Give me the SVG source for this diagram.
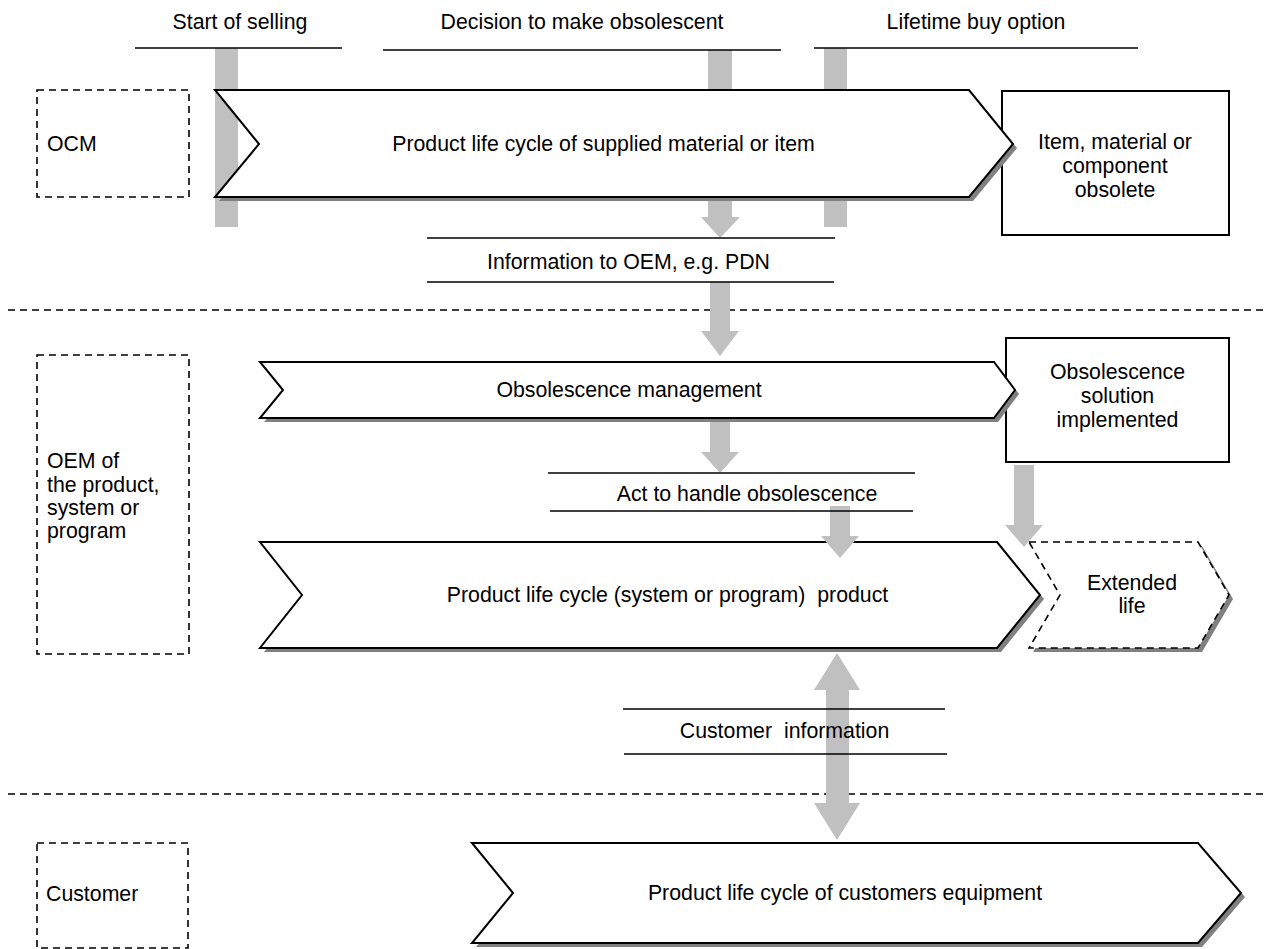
<svg xmlns="http://www.w3.org/2000/svg" xmlns:xlink="http://www.w3.org/1999/xlink" width="1265" height="949" viewBox="0 0 1265 949">
  <style>
    text { font-family: "Liberation Sans", Arial, sans-serif; font-size: 21.3px; fill: #000; white-space: pre; }
    .mid { text-anchor: middle; }
    .chev { fill: #fff; stroke: #000; stroke-width: 2; stroke-linejoin: miter; }
    .chev-dash { fill: #fff; stroke: #000; stroke-width: 1.6; stroke-dasharray: 7 5; }
    .shadow { fill: #808080; stroke: none; }
    .box { fill: #fff; stroke: #000; stroke-width: 2; }
    .lane { fill: none; stroke: #000; stroke-width: 1.6; stroke-dasharray: 7 5; }
    .rule { stroke: #000; stroke-width: 1.6; }
    .flow { fill: #c0c0c0; stroke: none; }
  </style>
  <defs>
    <polygon id="shp-supply" points="215,90 969,90 1013,144 969,197 215,197 259,144"/>
    <polygon id="shp-om" points="260,362 994,362 1015,390 994,418 260,418 283,390"/>
    <polygon id="shp-product" points="260,542 997,542 1040,595 997,648 260,648 302,595"/>
    <polygon id="shp-extended" points="1029,542 1198,542 1229,595 1198,648 1029,648 1060,595"/>
    <polygon id="shp-customer" points="472,843 1198,843 1241,893 1198,943 472,943 513,893"/>
  </defs>

  <rect width="1265" height="949" fill="#fff"/>

  <!-- lane separators -->
  <g id="lanes">
    <line class="lane" x1="8" y1="310" x2="1265" y2="310"/>
    <line class="lane" x1="8" y1="794" x2="1265" y2="794"/>
  </g>

  <!-- milestone bars running behind the supplier life cycle -->
  <g id="milestone-bars">
    <rect class="flow" x="215" y="48" width="23" height="179"/>
    <rect class="flow" x="824" y="48" width="23" height="179"/>
    <polygon class="flow" points="708,50 732,50 732,217 740,217 720,238 701,217 708,217"/>
  </g>

  <!-- role labels -->
  <g id="role-ocm">
    <rect class="lane" x="37" y="90" width="152" height="107"/>
    <text x="47" y="151">OCM</text>
  </g>
  <g id="role-oem">
    <rect class="lane" x="37" y="355" width="152" height="299"/>
    <text x="47" y="468">OEM of</text>
    <text x="47" y="492">the product,</text>
    <text x="47" y="515">system or</text>
    <text x="47" y="538">program</text>
  </g>
  <g id="role-customer">
    <rect class="lane" x="37" y="843" width="151" height="105"/>
    <text x="46" y="901">Customer</text>
  </g>

  <!-- end-state boxes -->
  <g id="item-obsolete">
    <rect class="box" x="1002" y="91" width="227" height="144"/>
    <text class="mid" x="1115" y="149">Item, material or</text>
    <text class="mid" x="1115" y="173">component</text>
    <text class="mid" x="1115" y="197">obsolete</text>
  </g>
  <g id="solution-implemented">
    <rect class="box" x="1006" y="338" width="223" height="124"/>
    <text class="mid" x="1117.5" y="379">Obsolescence</text>
    <text class="mid" x="1117.5" y="403">solution</text>
    <text class="mid" x="1117.5" y="427">implemented</text>
  </g>

  <!-- life cycle chevrons -->
  <g id="supplier-life-cycle">
    <use xlink:href="#shp-supply" href="#shp-supply" class="shadow" transform="translate(4,4)"/>
    <use xlink:href="#shp-supply" href="#shp-supply" class="chev"/>
    <text class="mid" x="603.5" y="151">Product life cycle of supplied material or item</text>
  </g>
  <g id="obsolescence-management">
    <use xlink:href="#shp-om" href="#shp-om" class="shadow" transform="translate(4,4)"/>
    <use xlink:href="#shp-om" href="#shp-om" class="chev"/>
    <text class="mid" x="629" y="397">Obsolescence management</text>
  </g>
  <g id="product-life-cycle">
    <use xlink:href="#shp-product" href="#shp-product" class="shadow" transform="translate(4,4)"/>
    <use xlink:href="#shp-product" href="#shp-product" class="chev"/>
    <text class="mid" x="667.5" y="602">Product life cycle (system or program)  product</text>
  </g>
  <g id="extended-life">
    <use xlink:href="#shp-extended" href="#shp-extended" class="shadow" transform="translate(4,4)"/>
    <use xlink:href="#shp-extended" href="#shp-extended" class="chev-dash"/>
    <text class="mid" x="1132" y="590">Extended</text>
    <text class="mid" x="1132" y="613">life</text>
  </g>
  <g id="customer-life-cycle">
    <use xlink:href="#shp-customer" href="#shp-customer" class="shadow" transform="translate(4,4)"/>
    <use xlink:href="#shp-customer" href="#shp-customer" class="chev"/>
    <text class="mid" x="845" y="900">Product life cycle of customers equipment</text>
  </g>

  <!-- flow arrows -->
  <g id="connectors">
    <polygon class="flow" points="710,282 730,282 730,331 739,331 720,356 701,331 710,331"/>
    <polygon class="flow" points="710,422 730,422 730,452 739,452 720,473 701,452 710,452"/>
    <polygon class="flow" points="830,506 850,506 850,536 859,536 840,558 821,536 830,536"/>
    <polygon class="flow" points="1014,465 1034,465 1034,525 1043,525 1024,547 1005,525 1014,525"/>
    <polygon class="flow" points="837,653 860,690 849,690 849,803 860,803 837,840 814,803 826,803 826,690 814,690"/>
  </g>

  <!-- milestone and hand-over labels -->
  <g id="start-of-selling">
    <line class="rule" x1="135" y1="48" x2="342" y2="48"/>
    <text class="mid" x="240" y="29">Start of selling</text>
  </g>
  <g id="decision-obsolescent">
    <line class="rule" x1="383" y1="50" x2="781" y2="50"/>
    <text class="mid" x="582" y="29">Decision to make obsolescent</text>
  </g>
  <g id="lifetime-buy">
    <line class="rule" x1="814" y1="48" x2="1138" y2="48"/>
    <text class="mid" x="976" y="29">Lifetime buy option</text>
  </g>
  <g id="info-to-oem">
    <line class="rule" x1="427" y1="238" x2="835" y2="238"/>
    <line class="rule" x1="427" y1="282" x2="834" y2="282"/>
    <text class="mid" x="628.5" y="269">Information to OEM, e.g. PDN</text>
  </g>
  <g id="act-on-obsolescence">
    <line class="rule" x1="548" y1="473" x2="915" y2="473"/>
    <line class="rule" x1="550" y1="511" x2="913" y2="511"/>
    <text class="mid" x="747" y="501">Act to handle obsolescence</text>
  </g>
  <g id="customer-information">
    <line class="rule" x1="623" y1="709" x2="945" y2="709"/>
    <line class="rule" x1="624" y1="754" x2="947" y2="754"/>
    <text class="mid" x="784.5" y="738">Customer  information</text>
  </g>
</svg>
